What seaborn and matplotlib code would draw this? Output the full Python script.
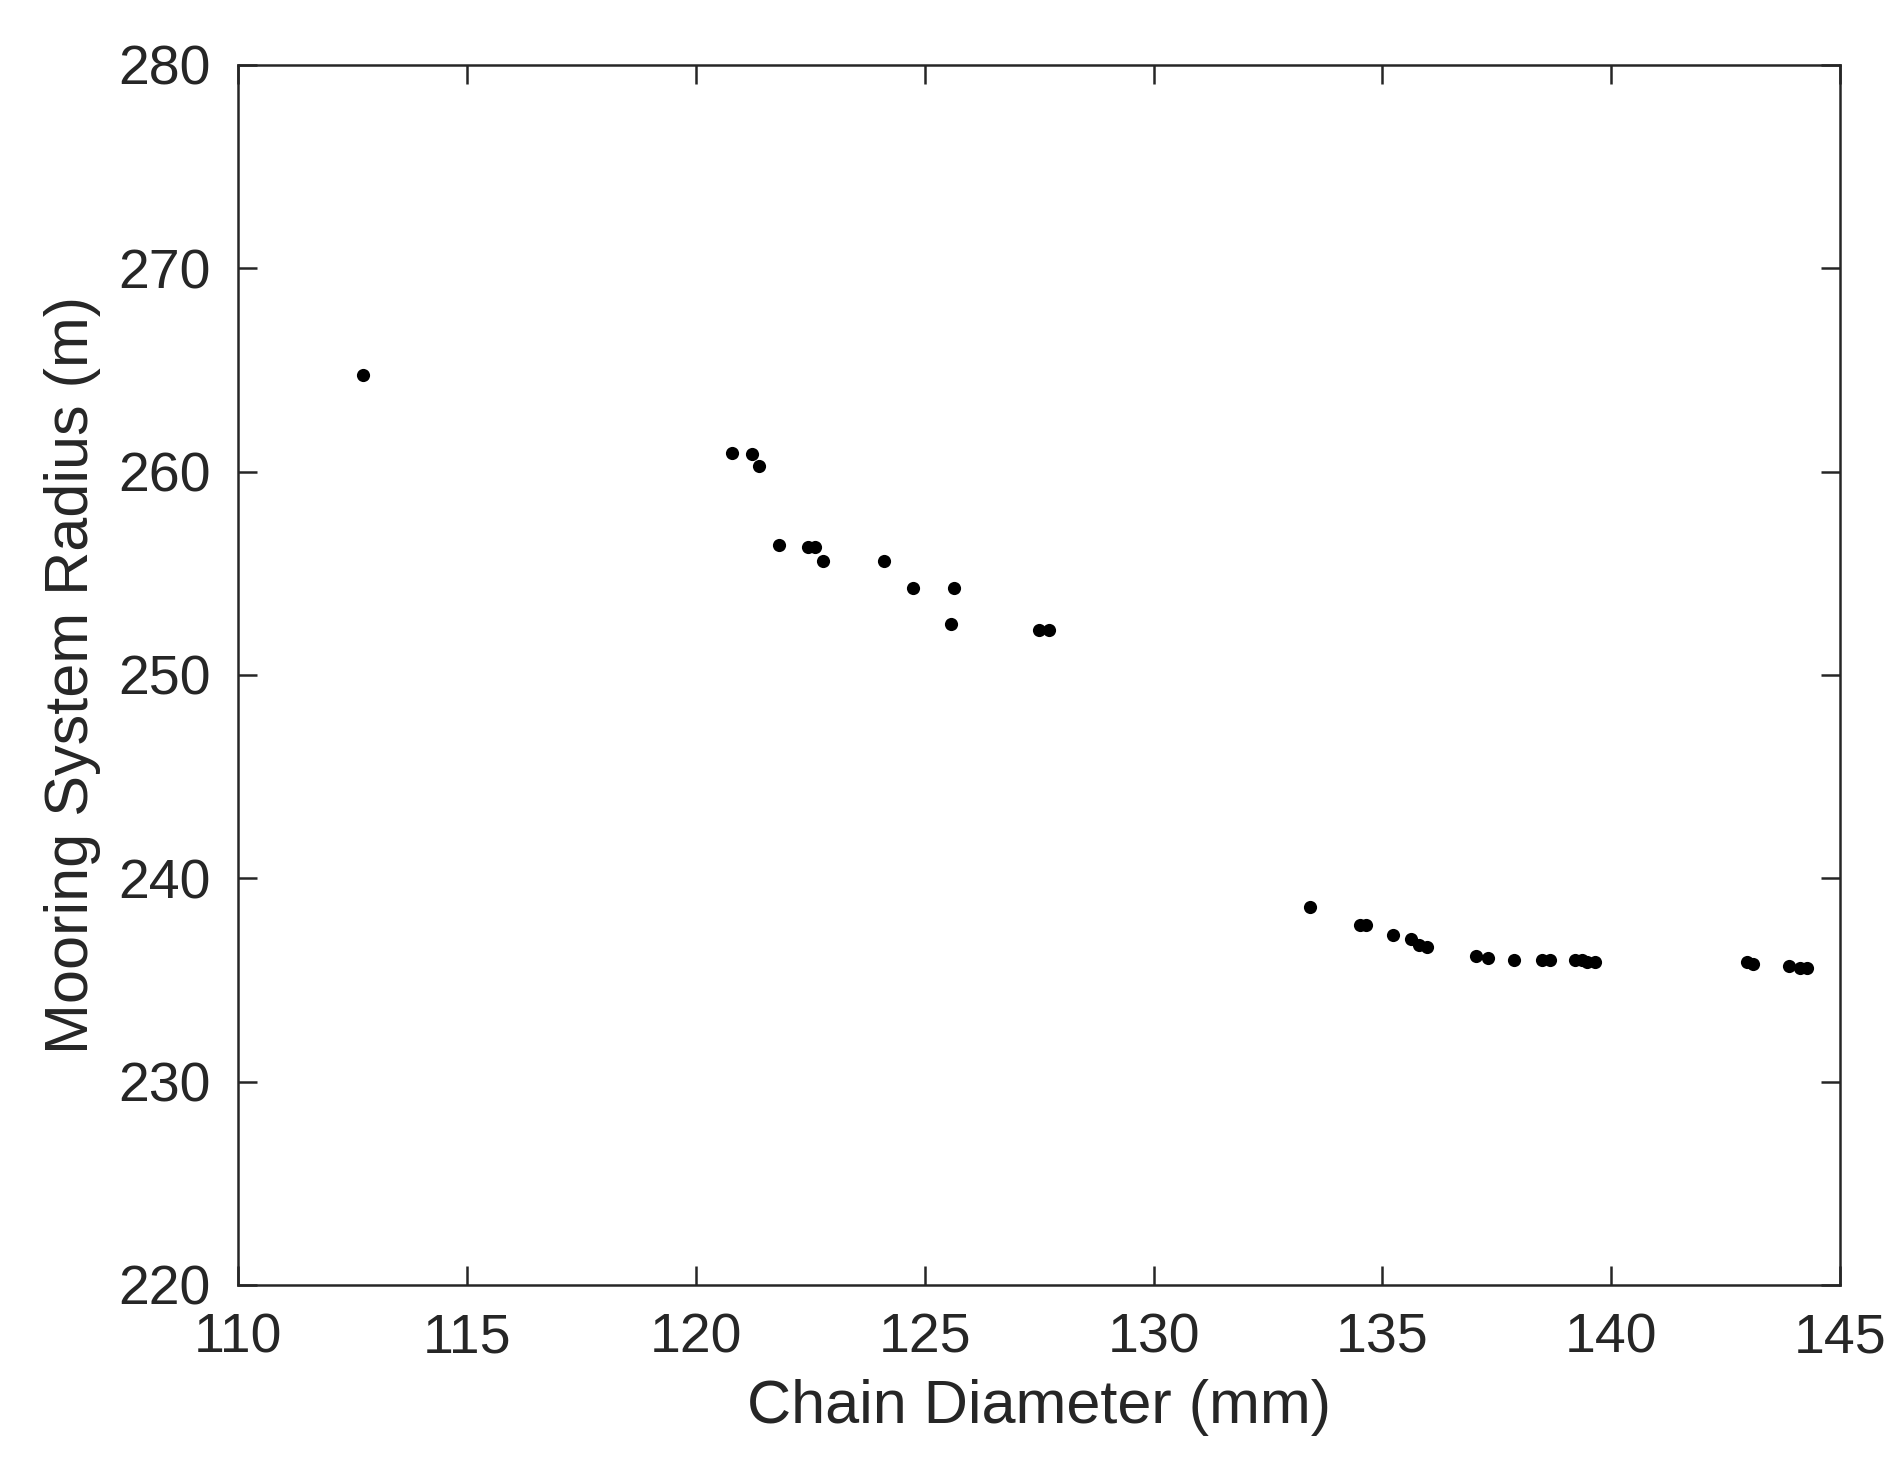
import matplotlib
matplotlib.use("Agg")
import matplotlib.pyplot as plt
import seaborn as sns
import pandas as pd

chain_diameter = [112.72, 120.8, 121.23, 121.39, 121.81, 122.45, 122.6, 122.77, 124.1, 124.75,
                  125.65, 125.57, 127.49, 127.71, 133.41, 134.51, 134.64, 135.23, 135.63, 135.81,
                  135.97, 137.04, 137.31, 137.87, 138.48, 138.67, 139.2, 139.36, 139.47, 139.65,
                  142.96, 143.09, 143.89, 144.13, 144.29]
radius = [264.76, 260.9, 260.85, 260.3, 256.4, 256.3, 256.3, 255.6, 255.6, 254.3,
          254.3, 252.5, 252.2, 252.2, 238.6, 237.7, 237.7, 237.2, 237.0, 236.7,
          236.6, 236.2, 236.1, 236.0, 236.0, 236.0, 236.0, 236.0, 235.9, 235.9,
          235.9, 235.8, 235.7, 235.6, 235.6]
xticks = [110, 115, 120, 125, 130, 135, 140, 145]
yticks = [220, 230, 240, 250, 260, 270, 280]

sns.set_style("ticks")
plt.rcParams['font.family'] = ['Liberation Sans', 'DejaVu Sans']
df = pd.DataFrame({"d": chain_diameter, "r": radius})

fig = plt.figure(figsize=(18.91, 14.77), dpi=100)
ax = fig.add_axes([0.126, 0.130, 0.847, 0.826])
sns.scatterplot(data=df, x="d", y="r", ax=ax, color="black", s=90, edgecolor="black", linewidth=0)
ax.set_xlim(110, 145)
ax.set_ylim(220, 280)
ax.set_xticks(xticks)
ax.set_yticks(yticks)
ax.tick_params(direction="in", length=14, width=1.8, labelsize=40, colors="#262626",
               top=True, right=True, pad=20)
for s in ax.spines.values():
    s.set_linewidth(1.8)
    s.set_color("#262626")
ax.set_xlabel("Chain Diameter (mm)", fontsize=44, color="#262626", labelpad=10)
ax.set_ylabel("Mooring System Radius (m)", fontsize=44, color="#262626", labelpad=12)
fig.savefig("out.png", dpi=100)
